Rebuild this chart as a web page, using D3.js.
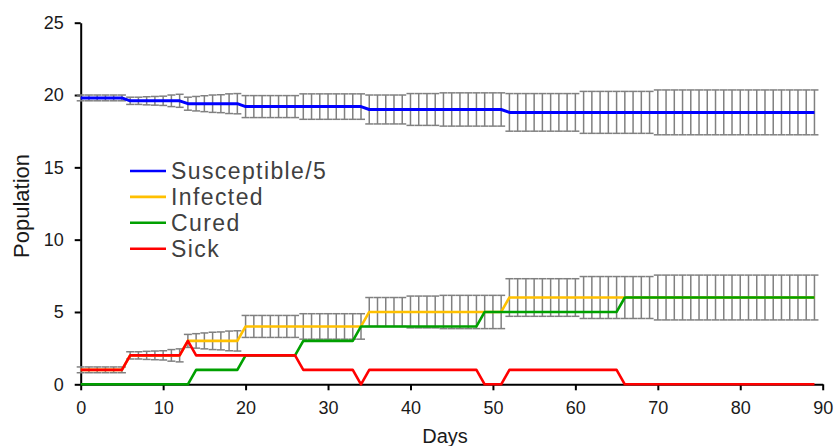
<!DOCTYPE html>
<html>
<head>
<meta charset="utf-8">
<script src="https://cdn.jsdelivr.net/npm/d3@7"></script>
<style>
  body { margin: 0; background: #fff; }
  svg { display: block; font-family: "Liberation Sans", Arial, sans-serif; }
</style>
</head>
<body>
<div id="chart"></div>
<script>
// Day index on the x axis
const days = d3.range(0, 90);

// Mean values per day
const susceptible5 = [
  19.8, 19.8, 19.8, 19.8, 19.8, 19.8,
  19.6, 19.6, 19.6, 19.6, 19.6, 19.6, 19.6,
  19.4, 19.4, 19.4, 19.4, 19.4, 19.4, 19.4,
  19.2, 19.2, 19.2, 19.2, 19.2, 19.2, 19.2, 19.2, 19.2, 19.2, 19.2, 19.2, 19.2, 19.2, 19.2,
  19.0, 19.0, 19.0, 19.0, 19.0, 19.0, 19.0, 19.0, 19.0, 19.0, 19.0, 19.0, 19.0, 19.0, 19.0, 19.0, 19.0,
  18.8, 18.8, 18.8, 18.8, 18.8, 18.8, 18.8, 18.8, 18.8, 18.8, 18.8, 18.8, 18.8, 18.8, 18.8, 18.8, 18.8, 18.8, 18.8,
  18.8, 18.8, 18.8, 18.8, 18.8, 18.8, 18.8, 18.8, 18.8, 18.8, 18.8, 18.8, 18.8, 18.8, 18.8, 18.8, 18.8, 18.8, 18.8
];
const infected = [
  1, 1, 1, 1, 1, 1,
  2, 2, 2, 2, 2, 2, 2,
  3, 3, 3, 3, 3, 3, 3,
  4, 4, 4, 4, 4, 4, 4, 4, 4, 4, 4, 4, 4, 4, 4,
  5, 5, 5, 5, 5, 5, 5, 5, 5, 5, 5, 5, 5, 5, 5, 5, 5,
  6, 6, 6, 6, 6, 6, 6, 6, 6, 6, 6, 6, 6, 6, 6, 6, 6, 6, 6,
  6, 6, 6, 6, 6, 6, 6, 6, 6, 6, 6, 6, 6, 6, 6, 6, 6, 6, 6
];
const cured = [
  0, 0, 0, 0, 0, 0, 0, 0, 0, 0, 0, 0, 0, 0,
  1, 1, 1, 1, 1, 1,
  2, 2, 2, 2, 2, 2, 2,
  3, 3, 3, 3, 3, 3, 3,
  4, 4, 4, 4, 4, 4, 4, 4, 4, 4, 4, 4, 4, 4, 4,
  5, 5, 5,
  5, 5, 5, 5, 5, 5, 5, 5, 5, 5, 5, 5, 5, 5,
  6, 6, 6, 6, 6, 6, 6, 6, 6, 6, 6, 6, 6, 6, 6, 6, 6, 6, 6, 6, 6, 6, 6, 6
];
const sick = [
  1, 1, 1, 1, 1, 1,
  2, 2, 2, 2, 2, 2, 2,
  3,
  2, 2, 2, 2, 2, 2, 2, 2, 2, 2, 2, 2, 2,
  1, 1, 1, 1, 1, 1, 1,
  0,
  1, 1, 1, 1, 1, 1, 1, 1, 1, 1, 1, 1, 1, 1,
  0, 0, 0,
  1, 1, 1, 1, 1, 1, 1, 1, 1, 1, 1, 1, 1, 1,
  0, 0, 0, 0, 0, 0, 0, 0, 0, 0, 0, 0, 0, 0, 0, 0, 0, 0, 0, 0, 0, 0, 0, 0
];

// Error bar half-heights per day (same spread on Susceptible/5 and Infected)
const spread = [
  0.2, 0.2, 0.2, 0.2, 0.2, 0.2,
  0.25, 0.25, 0.28, 0.3, 0.32, 0.4, 0.45,
  0.45, 0.5, 0.55, 0.6, 0.62, 0.68, 0.7,
  0.76, 0.76, 0.76, 0.76, 0.76, 0.76, 0.76,
  0.88, 0.88, 0.88, 0.88, 0.88, 0.88, 0.88, 0.88,
  1.0, 1.0, 1.0, 1.0, 1.0,
  1.1, 1.1, 1.1, 1.1,
  1.15, 1.15, 1.15, 1.15, 1.15, 1.15, 1.15, 1.15,
  1.3, 1.3, 1.3, 1.3, 1.3, 1.3, 1.3, 1.3, 1.3,
  1.45, 1.45, 1.45, 1.45, 1.45, 1.45, 1.45, 1.45, 1.45,
  1.55, 1.55, 1.55, 1.55, 1.55, 1.55, 1.55, 1.55, 1.55, 1.55,
  1.55, 1.55, 1.55, 1.55, 1.55, 1.55, 1.55, 1.55, 1.55, 1.55
];

const xTicks = [0, 10, 20, 30, 40, 50, 60, 70, 80, 90];
const yTicks = [0, 5, 10, 15, 20, 25];

const seriesNames = ["Susceptible/5", "Infected", "Cured", "Sick"];
const seriesColors = ["#0000ff", "#ffc000", "#00a000", "#ff0000"];
const seriesValues = [susceptible5, infected, cured, sick];

// Set the dimensions and margins of the graph
const margin = { top: 22.7, right: 13.3, bottom: 61.7, left: 80.7 };
const width = 836 - margin.left - margin.right;
const height = 446 - margin.top - margin.bottom;

const svgRoot = d3
  .select("#chart")
  .append("svg")
  .attr("width", 836)
  .attr("height", 446);

const svg = svgRoot
  .append("g")
  .attr("transform", `translate(${margin.left},${margin.top})`);

// Scales
const x = d3.scaleLinear().domain([0, 90]).range([0, width]);
const y = d3.scaleLinear().domain([0, 25]).range([height, 0]);

// Axes
const xAxis = svg.append("g")
  .attr("transform", `translate(0,${height})`)
  .call(d3.axisBottom(x).tickValues(xTicks).tickSize(6).tickSizeOuter(0).tickPadding(11));

const yAxis = svg.append("g")
  .call(d3.axisLeft(y).tickValues(yTicks).tickSize(6).tickSizeOuter(0).tickPadding(11));

[xAxis, yAxis].forEach(function (ax) {
  ax.selectAll("path, line").attr("stroke", "#000").attr("stroke-width", 2);
  ax.selectAll("text")
    .attr("fill", "#1a1a1a")
    .style("font-size", "18px")
    .style("font-family", '"Liberation Sans", Arial, sans-serif');
});

// Error bars for Susceptible/5 and Infected
const capHalf = 4;
[susceptible5, infected].forEach(function (vals, k) {
  const g = svg.append("g")
    .attr("class", "errbars" + k)
    .attr("stroke", "#808080")
    .attr("stroke-width", 1.5)
    .attr("fill", "none");

  g.selectAll(".stem")
    .data(days)
    .enter()
    .append("line")
    .attr("x1", (d) => x(d))
    .attr("x2", (d) => x(d))
    .attr("y1", (d) => y(vals[d] + spread[d]))
    .attr("y2", (d) => y(vals[d] - spread[d]));

  g.selectAll(".capTop")
    .data(days)
    .enter()
    .append("line")
    .attr("x1", (d) => x(d) - capHalf)
    .attr("x2", (d) => x(d) + capHalf)
    .attr("y1", (d) => y(vals[d] + spread[d]))
    .attr("y2", (d) => y(vals[d] + spread[d]));

  g.selectAll(".capBottom")
    .data(days)
    .enter()
    .append("line")
    .attr("x1", (d) => x(d) - capHalf)
    .attr("x2", (d) => x(d) + capHalf)
    .attr("y1", (d) => y(vals[d] - spread[d]))
    .attr("y2", (d) => y(vals[d] - spread[d]));
});

// Series lines
const line = d3.line()
  .x((d) => x(d[0]))
  .y((d) => y(d[1]));

seriesValues.forEach(function (vals, i) {
  svg.append("path")
    .datum(days.map((d) => [d, vals[d]]))
    .attr("fill", "none")
    .attr("stroke", seriesColors[i])
    .attr("stroke-width", i === 0 ? 3 : 2.6)
    .attr("stroke-linejoin", "round")
    .attr("d", line);
});

// Legend
const legend = svgRoot.append("g").attr("transform", "translate(130,171)");
seriesNames.forEach(function (name, i) {
  const row = legend.append("g").attr("transform", `translate(0,${i * 25.9})`);
  row.append("line")
    .attr("x1", 0)
    .attr("x2", 36)
    .attr("stroke", seriesColors[i])
    .attr("stroke-width", 2.6);
  row.append("text")
    .attr("x", 41)
    .attr("dy", "0.35em")
    .attr("fill", "#404040")
    .style("font-size", "23px")
    .style("letter-spacing", "1.4px")
    .text(name);
});

// Axis titles
svgRoot.append("text")
  .attr("transform", "translate(29,206) rotate(-90)")
  .attr("text-anchor", "middle")
  .attr("fill", "#1a1a1a")
  .style("font-size", "22px")
  .text("Population");

svgRoot.append("text")
  .attr("x", 445)
  .attr("y", 443)
  .attr("text-anchor", "middle")
  .attr("fill", "#1a1a1a")
  .style("font-size", "20px")
  .text("Days");
</script>
</body>
</html>
